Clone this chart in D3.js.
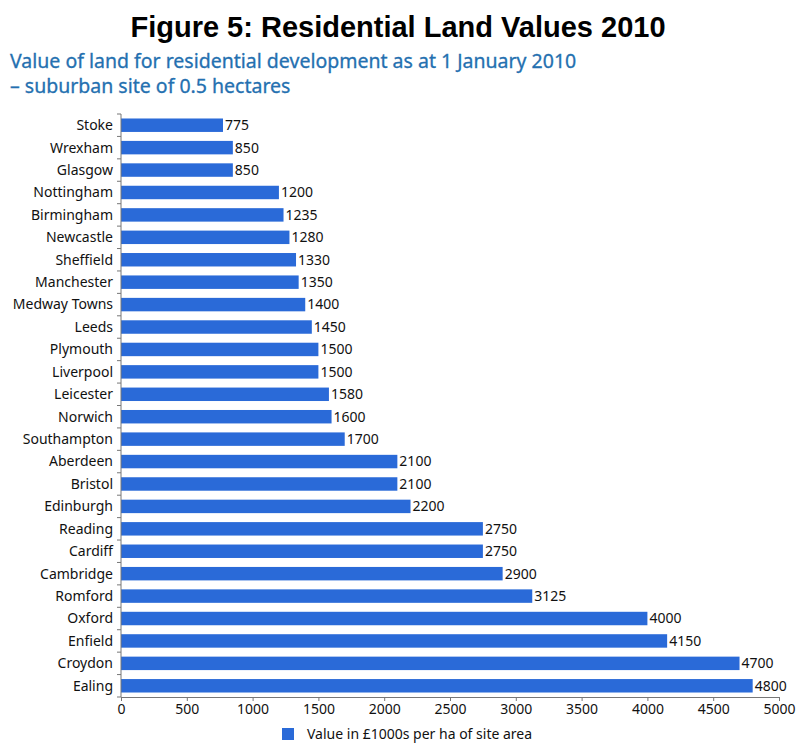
<!DOCTYPE html>
<html>
<head>
<meta charset="utf-8">
<script src="https://cdn.jsdelivr.net/npm/d3@7"></script>
<style>
  html, body { margin: 0; padding: 0; background: #fff; }
  svg { display: block; }
</style>
</head>
<body>
<svg id="chart" width="796" height="743"></svg>
<script>
// Land values, £1000s per hectare of site area
const cities = ["Stoke", "Wrexham", "Glasgow", "Nottingham", "Birmingham", "Newcastle",
  "Sheffield", "Manchester", "Medway Towns", "Leeds", "Plymouth", "Liverpool",
  "Leicester", "Norwich", "Southampton", "Aberdeen", "Bristol", "Edinburgh",
  "Reading", "Cardiff", "Cambridge", "Romford", "Oxford", "Enfield", "Croydon", "Ealing"];
const values = [775, 850, 850, 1200, 1235, 1280, 1330, 1350, 1400, 1450, 1500, 1500,
  1580, 1600, 1700, 2100, 2100, 2200, 2750, 2750, 2900, 3125, 4000, 4150, 4700, 4800];
const xTicks = [0, 500, 1000, 1500, 2000, 2500, 3000, 3500, 4000, 4500, 5000];

const title = "Figure 5: Residential Land Values 2010";
const subtitle = ["Value of land for residential development as at 1 January 2010",
  "\u2013 suburban site of 0.5 hectares"];
const legendLabel = "Value in \u00a31000s per ha of site area";

const barColor = "#2a6ad8";
const axisColor = "#777";
const labelFont = "'Noto Sans', sans-serif";

const svg = d3.select("#chart");
const rows = cities.map((c, i) => ({ city: c, value: values[i] }));

const x = d3.scaleLinear().domain([0, 5000]).range([121, 779]);
const y = d3.scaleBand().domain(cities).range([114, 697]).paddingInner(0.4).paddingOuter(0.2);

// Headings
svg.append("text")
  .attr("x", 398).attr("y", 37)
  .attr("text-anchor", "middle")
  .attr("font-family", "'Liberation Sans', Arial, sans-serif")
  .attr("font-weight", "bold")
  .attr("font-size", 29)
  .attr("fill", "#000")
  .text(title);

svg.append("g").selectAll("text").data(subtitle).join("text")
  .attr("x", 10)
  .attr("y", (d, i) => 68 + i * 25)
  .attr("font-family", labelFont)
  .attr("font-size", 19.5)
  .attr("fill", "#2470b0")
  .attr("stroke", "#2470b0")
  .attr("stroke-width", 0.3)
  .text(d => d);

// Bars
svg.append("g").selectAll("rect").data(rows).join("rect")
  .attr("x", x(0))
  .attr("y", d => y(d.city))
  .attr("width", d => x(d.value) - x(0))
  .attr("height", y.bandwidth())
  .attr("fill", barColor);

// Value labels at bar ends
svg.append("g").selectAll("text").data(rows).join("text")
  .attr("x", d => x(d.value) + 2)
  .attr("y", d => y(d.city) + y.bandwidth() / 2)
  .attr("dy", "0.35em")
  .attr("font-family", labelFont)
  .attr("font-size", 14)
  .attr("fill", "#111")
  .text(d => d.value);

// Category axis: labels plus tick marks between bands
const yAxis = svg.append("g");
yAxis.append("line")
  .attr("x1", x(0)).attr("x2", x(0))
  .attr("y1", y.range()[0]).attr("y2", y.range()[1])
  .attr("stroke", axisColor);
const bounds = d3.range(cities.length + 1).map(i => y.range()[0] + i * y.step());
yAxis.selectAll("line.tick").data(bounds).join("line")
  .attr("class", "tick")
  .attr("x1", x(0) - 4).attr("x2", x(0))
  .attr("y1", d => d).attr("y2", d => d)
  .attr("stroke", axisColor);
yAxis.selectAll("text").data(cities).join("text")
  .attr("x", x(0) - 8)
  .attr("y", d => y(d) + y.bandwidth() / 2)
  .attr("dy", "0.35em")
  .attr("text-anchor", "end")
  .attr("font-family", labelFont)
  .attr("font-size", 14)
  .attr("fill", "#111")
  .text(d => d);

// Value axis
const xAxis = svg.append("g")
  .attr("transform", `translate(0,${y.range()[1]})`)
  .call(d3.axisBottom(x).tickValues(xTicks).tickSize(4).tickPadding(3).tickFormat(d3.format("d")));
xAxis.select(".domain").attr("stroke", axisColor);
xAxis.selectAll(".tick line").attr("stroke", axisColor);
xAxis.selectAll(".tick text")
  .attr("font-family", labelFont)
  .attr("font-size", 14)
  .attr("fill", "#111");

// Legend
const legend = svg.append("g").attr("transform", "translate(282,728)");
legend.append("rect").attr("width", 12).attr("height", 12).attr("fill", barColor);
legend.append("text")
  .attr("x", 25).attr("y", 6).attr("dy", "0.35em")
  .attr("font-family", labelFont)
  .attr("font-size", 14)
  .attr("fill", "#111")
  .text(legendLabel);
</script>
</body>
</html>
